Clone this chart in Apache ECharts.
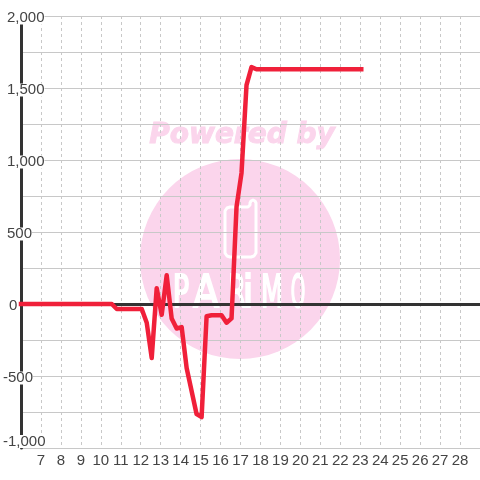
<!DOCTYPE html>
<html><head><meta charset="utf-8">
<script src="https://cdn.jsdelivr.net/npm/echarts@6/dist/echarts.min.js"></script>
<style>html,body{margin:0;padding:0;background:#fff}#c{width:480px;height:480px}</style></head>
<body><div id="c"></div>
<script>
var xs = [6,10.55,10.8,12.05,12.3,12.55,12.8,13.05,13.3,13.55,13.8,14.05,14.3,14.8,15.05,15.3,15.55,16.05,16.3,16.55,16.8,17.05,17.3,17.55,17.8,23.05];
var ys = [0,0,-35,-35,-130,-375,110,-75,200,-100,-170,-160,-445,-765,-785,-85,-78,-78,-130,-100,675,910,1520,1645,1630,1630];
var points = xs.map(function(x,i){return [x,ys[i]];});
var pink = '#fbd5ec';
var logoLetters = [['P',181,0.62],['A',206,0.85],['R',237,0.58],['i',248,0.9],['M',272,0.58],['O',298,0.42]];
var chart = echarts.init(document.getElementById('c'), null, {renderer:'canvas'});
var letterEls = logoLetters.map(function(l){
  return {type:'text', z:-1, silent:true, x:l[1], y:296, scaleX:l[2],
    style:{text:l[0], x:0, y:0, align:'center', verticalAlign:'middle', fill:'#fff',
      stroke:'#fff', lineWidth:2, font:'normal 44px "DejaVu Sans"'}};
});
chart.setOption({
  animation:false,
  backgroundColor:'#fff',
  graphic:{elements:[
    {type:'circle', z:-2, silent:true, shape:{cx:240,cy:259,r:100}, style:{fill:pink}},
    {type:'text', z:-2, silent:true, x:242, y:136, style:{text:'Powered by', align:'center', verticalAlign:'middle', fill:pink, stroke:pink, lineWidth:1, font:'italic bold 28px "DejaVu Sans"'}},
    {type:'polygon', z:-1, silent:true, shape:{points:[[230,207],[227,208],[225,211],[225,253],[227,256],[230,257],[251,257],[254,256],[256,253],[256,203],[255,201],[253,200],[251,201],[250,203],[250,205],[248,207]]},
      style:{fill:'none', stroke:'#fff', lineWidth:3, lineJoin:'round'}}
  ].concat(letterEls)},
  grid:{left:20, top:16, width:460, height:432, containLabel:false},
  xAxis:{type:'value', min:6, max:29, interval:1,
    axisLine:{show:true, onZero:true, lineStyle:{color:'#333', width:3}},
    axisTick:{show:false},
    axisLabel:{showMinLabel:false, showMaxLabel:false, color:'#444', fontSize:15, fontFamily:'Liberation Sans', margin:5},
    splitLine:{show:true, lineStyle:{color:'#c8c8c8', width:1, type:[3,3]}}
  },
  yAxis:{type:'value', min:-1000, max:2000, interval:250,
    axisLine:{show:true, onZero:false, lineStyle:{color:'#333', width:3}},
    axisTick:{show:false},
    axisLabel:{align:'left', margin:18, verticalAlignMinLabel:'bottom',
      showMinLabel:true, showMaxLabel:true,
      formatter:function(v){
        if(v%500!==0) return '';
        var s = echarts.format.addCommas(v);
        var pad = v<0 ? '{n|}' : (v===0 ? '{z|}' : '{p|}');
        return pad+'{t|'+s+'}';
      },
      rich:{
        n:{width:0.01,height:17},
        p:{width:4,height:17},
        z:{width:6,height:17},
        t:{color:'#444',fontSize:15,fontFamily:'Liberation Sans',backgroundColor:'#fff',height:13,lineHeight:13,verticalAlign:'bottom'}
      }
    },
    splitLine:{show:true, lineStyle:{color:'#c8c8c8', width:1}}
  },
  series:[{type:'line', data:points, showSymbol:false, smooth:false, z:5, clip:false,
    lineStyle:{color:'#f0203a', width:4.5, join:'round', cap:'square'}}]
});
</script></body></html>
